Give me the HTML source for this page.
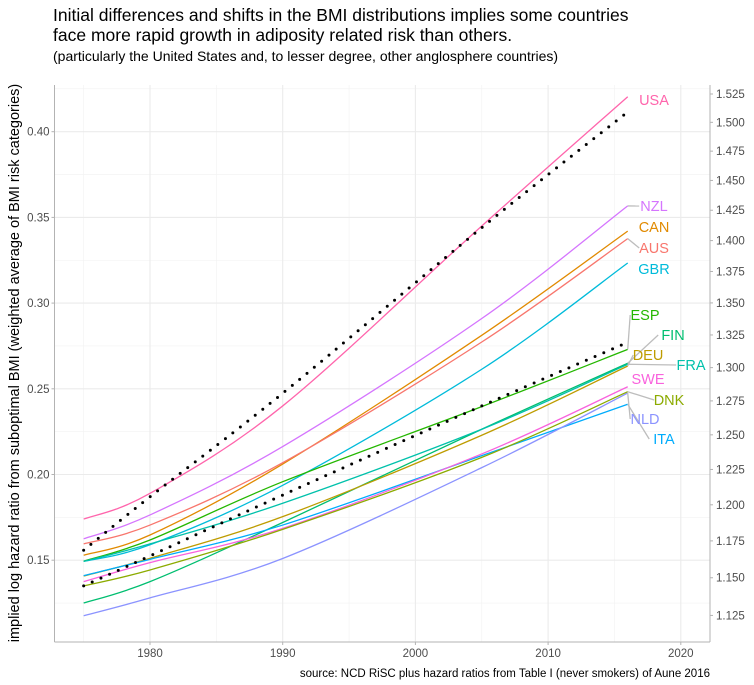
<!DOCTYPE html>
<html><head><meta charset="utf-8"><style>
body{margin:0;background:#fff;}
svg{display:block;font-family:"Liberation Sans",sans-serif;}
</style></head><body>
<svg id="chart" width="754" height="685" viewBox="0 0 754 685" xmlns="http://www.w3.org/2000/svg">
<text x="53" y="21" font-size="17.5" fill="#000">Initial differences and shifts in the BMI distributions implies some countries</text>
<text x="53" y="41" font-size="17.5" fill="#000">face more rapid growth in adiposity related risk than others.</text>
<text x="53" y="61" font-size="14" fill="#000">(particularly the United States and, to lesser degree, other anglosphere countries)</text>
<g id="grid"></g>
<g id="series"></g>
<g id="axes"></g>
<text transform="translate(19,363) rotate(-90)" text-anchor="middle" font-size="14.5" fill="#000">implied log hazard ratio from suboptimal BMI (weighted average of BMI risk categories)</text>
<text x="710" y="677" text-anchor="end" font-size="11.5" fill="#000">source: NCD RiSC plus hazard ratios from Table I (never smokers) of Aune 2016</text>
</svg>
<script>
const years = [1975, 1980, 1990, 2005, 2016];
const countries = ["USA","NZL","CAN","AUS","GBR","ESP","FIN","FRA","DEU","ITA","SWE","DNK","NLD"];
const colors = ["#FF65AC","#D575FE","#E18A00","#F8766D","#00BBDA","#24B700","#00BE70","#00C1AB","#BE9C00","#00ACFC","#F962DD","#8CAB00","#8B93FF"];
const USA = [0.174, 0.189, 0.240, 0.345, 0.4204];
const NZL = [0.1625, 0.1764, 0.2163, 0.291, 0.3567];
const CAN = [0.1529, 0.1647, 0.2061, 0.2812, 0.342];
const AUS = [0.1595, 0.1705, 0.2069, 0.2773, 0.3376];
const GBR = [0.1493, 0.159, 0.1937, 0.2614, 0.3234];
const ESP = [0.1495, 0.1618, 0.1958, 0.2396, 0.273];
const FIN = [0.125, 0.1375, 0.172, 0.2264, 0.2649];
const FRA = [0.1493, 0.1595, 0.1832, 0.2264, 0.2643];
const DEU = [0.1408, 0.1511, 0.1754, 0.2229, 0.2633];
const ITA = [0.141, 0.1505, 0.1705, 0.211, 0.241];
const SWE = [0.1375, 0.1486, 0.1686, 0.212, 0.2512];
const DNK = [0.135, 0.1443, 0.1680, 0.210, 0.2483];
const NLD = [0.1176, 0.128, 0.151, 0.204, 0.2475];
const dotYears = [1975, 1980, 1990, 2005, 2016];
const dotsUpper = [0.1558, 0.187, 0.2474, 0.344, 0.4115];
const dotsLower = [0.135, 0.1525, 0.188, 0.240, 0.2771];
const xTicks = [1980, 1990, 2000, 2010, 2020];
const yTicks = [0.15, 0.20, 0.25, 0.30, 0.35, 0.40];
const yTickLabels = ["0.15","0.20","0.25","0.30","0.35","0.40"];
const rightTicks = [1.125,1.15,1.175,1.2,1.225,1.25,1.275,1.3,1.325,1.35,1.375,1.4,1.425,1.45,1.475,1.5,1.525];
const seriesData = {USA,NZL,CAN,AUS,GBR,ESP,FIN,FRA,DEU,ITA,SWE,DNK,NLD};
// label positions (layout, not data)
const labelPos = {USA:[654,105],NZL:[654,211],CAN:[654,232],AUS:[654,253],GBR:[654,274],ESP:[645,320],FIN:[673,340],DEU:[648,360],FRA:[691,370],SWE:[648,384],DNK:[669,405],NLD:[645,424],ITA:[664,444]};
const leader = {NZL:true,AUS:true,ESP:true,FIN:true,DEU:true,FRA:true,DNK:true,NLD:true,ITA:true};

const L=54.5,R=710,T=85,B=642;
const X = y => 150 + (y-1980)*13.27;
const Y = v => 131.7 - (v-0.40)*1714;
const NS="http://www.w3.org/2000/svg";
function mk(tag, attrs, parent){const e=document.createElementNS(NS,tag);for(const k in attrs)e.setAttribute(k,attrs[k]);parent.appendChild(e);return e;}
const grid=document.getElementById('grid'), ser=document.getElementById('series'), axes=document.getElementById('axes');
mk('rect',{x:L,y:T,width:R-L,height:B-T,fill:'#fff'},grid);
for(let v=0.125; v<0.43; v+=0.05){const g=mk('line',{x1:L,x2:R,y1:Y(v),y2:Y(v),stroke:'#f2f2f2','stroke-width':0.6},grid);

}
for(let yr=1975; yr<=2015; yr+=10){const g=mk('line',{x1:X(yr),x2:X(yr),y1:T,y2:B,stroke:'#f2f2f2','stroke-width':0.6},grid);

}
yTicks.forEach((v,i)=>{const g=mk('line',{x1:L,x2:R,y1:Y(v),y2:Y(v),stroke:'#ebebeb','stroke-width':1.1},grid);


const t=mk('text',{x:L-5,y:Y(v)+4,'text-anchor':'end','font-size':11.5,fill:'#4d4d4d'},axes);t.textContent=yTickLabels[i];


mk('line',{x1:L-3,x2:L,y1:Y(v),y2:Y(v),stroke:'#b3b3b3'},axes);});
xTicks.forEach(yr=>{const g=mk('line',{x1:X(yr),x2:X(yr),y1:T,y2:B,stroke:'#ebebeb','stroke-width':1.1},grid);


const t=mk('text',{x:X(yr),y:B+15,'text-anchor':'middle','font-size':11.5,fill:'#4d4d4d'},axes);t.textContent=yr;


mk('line',{x1:X(yr),x2:X(yr),y1:B,y2:B+3,stroke:'#b3b3b3'},axes);});
rightTicks.forEach(v=>{const y=Y(Math.log(v));
mk('line',{x1:R,x2:R+3,y1:y,y2:y,stroke:'#b3b3b3'},axes);
const t=mk('text',{x:R+6,y:y+4,'font-size':11.5,fill:'#4d4d4d'},axes);t.textContent=v.toFixed(3);

});
mk('line',{x1:L,x2:L,y1:T,y2:B,stroke:'#b3b3b3'},axes);
mk('line',{x1:R,x2:R,y1:T,y2:B,stroke:'#b3b3b3'},axes);
mk('line',{x1:L,x2:R,y1:B,y2:B,stroke:'#b3b3b3'},axes);

function pathFor(xs, vs){
  const pts=xs.map((x,i)=>[X(x),Y(vs[i])]);
  let d=`M${pts[0][0]},${pts[0][1]}`;
  for(let i=0;i<pts.length-1;i++){
    const p0=pts[Math.max(i-1,0)],p1=pts[i],p2=pts[i+1],p3=pts[Math.min(i+2,pts.length-1)];
    const c1=[p1[0]+(p2[0]-p0[0])/6,p1[1]+(p2[1]-p0[1])/6];
    const c2=[p2[0]-(p3[0]-p1[0])/6,p2[1]-(p3[1]-p1[1])/6];
    d+=` C${c1[0]},${c1[1]} ${c2[0]},${c2[1]} ${p2[0]},${p2[1]}`;
  }
  return d;
}
countries.forEach((c,i)=>{
  const vs=seriesData[c];
  const p=mk('path',{d:pathFor(years,vs),fill:'none',stroke:colors[i],'stroke-width':1.3},ser);
  
  
  const ex=X(years[years.length-1]), ey=Y(vs[vs.length-1]);
  const [lx,ly]=labelPos[c];
  if(leader[c]){
    const w=c.length*9.2;
    const l=mk('line',{x1:ex,y1:ey,x2:lx-w/2-1,y2:ly-5,stroke:'#bdbdbd','stroke-width':1.3},ser);
    
    
  }
  const t=mk('text',{x:lx,y:ly,'text-anchor':'middle','font-size':14.5,fill:colors[i]},ser);
  t.textContent=c;
  
  
});
[dotsUpper,dotsLower].forEach((vs,k)=>{
  const p=mk('path',{d:pathFor(dotYears,vs),fill:'none',stroke:'#000','stroke-width':3,'stroke-linecap':'round','stroke-dasharray':'0 9.5'},ser);
  
  
});
</script>
</body></html>
